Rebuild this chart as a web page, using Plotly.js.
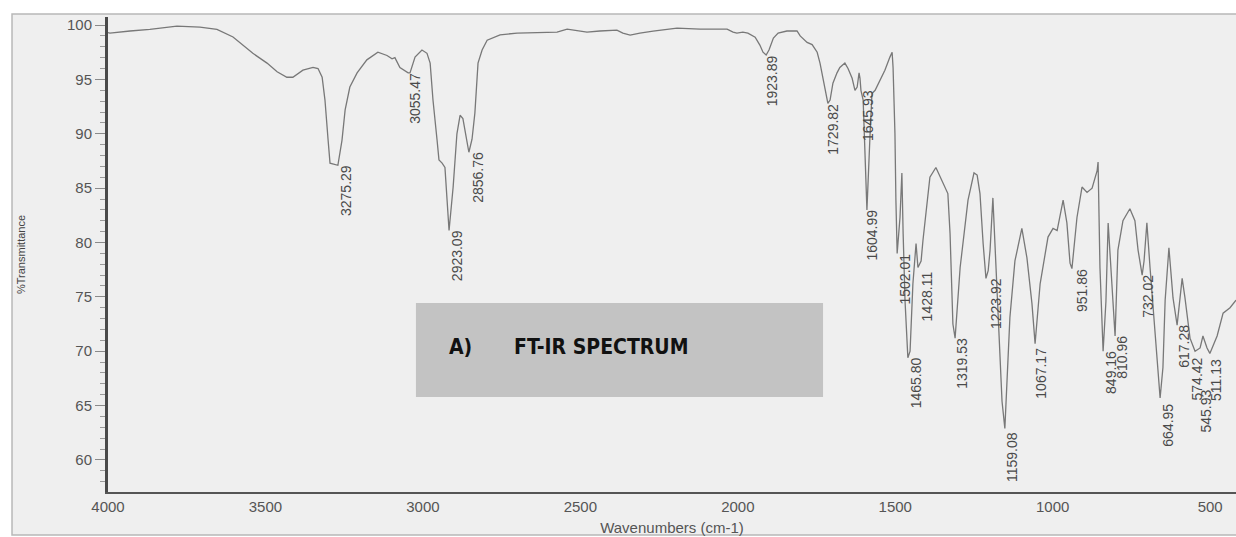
<!DOCTYPE html>
<html>
<head>
<meta charset="utf-8">
<script src="https://cdn.plot.ly/plotly-3.0.1.min.js"></script>
<style>
  html, body { margin: 0; padding: 0; background: #ffffff; }
  #chart { width: 1236px; height: 537px; }
</style>
</head>
<body>
<div id="chart"></div>
<script>
// Spectrum trace (wavenumber, %T)
var wavenumber = [4000, 3994, 3930, 3867, 3781, 3708, 3654, 3603, 3540, 3495, 3463, 3432, 3413, 3381, 3349, 3333, 3320, 3311, 3301, 3295, 3270, 3257, 3247, 3232, 3209, 3178, 3143, 3114, 3098, 3089, 3073, 3047, 3041, 3025, 3003, 2987, 2977, 2968, 2955, 2949, 2939, 2930, 2917, 2904, 2892, 2882, 2873, 2863, 2854, 2844, 2835, 2825, 2812, 2796, 2755, 2701, 2628, 2574, 2542, 2501, 2479, 2438, 2384, 2365, 2342, 2311, 2269, 2193, 2120, 2034, 2015, 2003, 1984, 1968, 1945, 1930, 1920, 1910, 1901, 1887, 1872, 1844, 1812, 1802, 1780, 1764, 1748, 1739, 1729, 1720, 1714, 1707, 1698, 1685, 1676, 1660, 1650, 1637, 1628, 1621, 1618, 1615, 1612, 1609, 1602, 1599, 1596, 1590, 1580, 1574, 1564, 1548, 1533, 1517, 1510, 1507, 1501, 1498, 1494, 1485, 1479, 1475, 1469, 1460, 1453, 1444, 1434, 1428, 1418, 1412, 1390, 1371, 1352, 1333, 1326, 1317, 1310, 1304, 1294, 1269, 1250, 1240, 1231, 1221, 1212, 1205, 1199, 1190, 1187, 1177, 1161, 1152, 1145, 1136, 1120, 1098, 1082, 1066, 1056, 1040, 1015, 999, 986, 967, 955, 945, 939, 923, 907, 891, 875, 859, 856, 850, 840, 831, 824, 812, 802, 793, 777, 755, 739, 729, 716, 710, 701, 691, 675, 659, 650, 643, 631, 618, 605, 589, 580, 564, 548, 532, 523, 510, 501, 478, 459, 437, 418];
var transmittance = [99.3, 99.26, 99.45, 99.6, 99.9, 99.8, 99.6, 98.9, 97.4, 96.5, 95.7, 95.2, 95.2, 95.85, 96.1, 96.0, 95.2, 93.1, 89.4, 87.3, 87.1, 89.4, 92.2, 94.3, 95.6, 96.8, 97.5, 97.2, 96.9, 97.0, 96.1, 95.6, 95.6, 97.05, 97.7, 97.4, 96.5, 93.1, 89.4, 87.6, 87.3, 86.9, 81.1, 85.1, 90.0, 91.7, 91.4, 89.8, 88.3, 89.5, 91.9, 96.5, 97.7, 98.6, 99.1, 99.26, 99.35, 99.35, 99.63, 99.45, 99.35, 99.45, 99.54, 99.26, 99.08, 99.26, 99.45, 99.72, 99.63, 99.63, 99.35, 99.26, 99.35, 99.26, 98.89, 98.16, 97.5, 97.24, 97.7, 98.8, 99.26, 99.45, 99.45, 99.0, 98.4, 98.2, 97.5, 96.5, 94.9, 93.4, 92.8, 93.1, 94.65, 95.6, 96.1, 96.5, 96.0, 95.1, 94.0, 94.3, 94.9, 95.6, 95.1, 94.0, 93.1, 90.3, 86.4, 83.0, 90.0, 93.7, 94.0, 94.9, 95.85, 97.05, 97.5, 96.1, 90.0, 83.9, 79.0, 82.3, 86.4, 80.8, 74.65, 69.4, 70.0, 76.2, 79.9, 77.7, 78.3, 80.2, 86.0, 86.9, 85.7, 84.5, 80.8, 72.5, 71.2, 73.7, 77.7, 83.9, 86.4, 86.2, 84.5, 79.9, 76.7, 77.4, 79.3, 84.1, 82.3, 76.2, 65.4, 62.9, 67.0, 73.1, 78.3, 81.3, 78.6, 74.4, 70.7, 76.2, 80.5, 81.3, 81.1, 83.9, 81.8, 78.1, 77.6, 82.3, 85.1, 84.6, 85.0, 86.6, 87.4, 77.7, 70.0, 74.6, 81.8, 76.2, 71.4, 79.3, 82.0, 83.1, 82.0, 79.3, 77.0, 78.3, 81.8, 77.7, 71.6, 65.7, 68.5, 74.7, 79.5, 74.9, 72.4, 76.7, 74.9, 71.2, 70.0, 70.3, 71.4, 70.3, 69.8, 71.4, 73.5, 74.0, 74.7];

// Peak labels
var peakLabels = ["3275.29", "3055.47", "2923.09", "2856.76", "1923.89", "1729.82", "1645.93", "1604.99", "1502.01", "1465.80", "1428.11", "1319.53", "1223.92", "1159.08", "1067.17", "951.86", "849.16", "810.96", "732.02", "664.95", "617.28", "574.42", "545.93", "511.13"];
var peakWavenumber = [3275.29, 3055.47, 2923.09, 2856.76, 1923.89, 1729.82, 1645.93, 1604.99, 1502.01, 1465.80, 1428.11, 1319.53, 1223.92, 1159.08, 1067.17, 951.86, 849.16, 810.96, 732.02, 664.95, 617.28, 574.42, 545.93, 511.13];
var peakTransmittance = [87.1, 95.6, 81.1, 88.3, 97.24, 92.8, 94.0, 83.0, 79.0, 69.4, 77.7, 71.2, 76.7, 62.9, 70.7, 77.6, 70.0, 71.4, 77.0, 65.7, 72.4, 70.0, 69.8, 69.8];

// Axis ticks
var xTicks = [4000, 3500, 3000, 2500, 2000, 1500, 1000, 500];
var yTicks = [60, 65, 70, 75, 80, 85, 90, 95, 100];

// label placement tweaks (layout only)
var labelDrop = {"664.95": -6, "574.42": -6, "545.93": -36, "511.13": -6, "1159.08": -4, "1067.17": -4, "1428.11": -4};
var labelSide = {"1645.93": 8, "951.86": 4, "1223.92": 4};

var annotations = [];
for (var i = 0; i < peakLabels.length; i++) {
  annotations.push({
    x: peakWavenumber[i], y: peakTransmittance[i], xref: 'x', yref: 'y',
    text: peakLabels[i], showarrow: false, textangle: -90,
    xanchor: 'left', yanchor: 'top',
    xshift: 2 + (labelSide[peakLabels[i]] || 0), yshift: (labelDrop[peakLabels[i]] || 0),
    font: {family: 'Liberation Sans, Arial, sans-serif', size: 14, color: '#4a4a4a'},
    borderpad: 0, borderwidth: 0
  });
}
annotations.push({
  xref: 'paper', yref: 'paper', x: 0.3005, y: 0.3053, xanchor: 'left', yanchor: 'middle',
  text: '<b>A)</b>', showarrow: false,
  font: {family: 'Liberation Sans Narrow, DejaVu Sans Condensed, sans-serif', size: 21, color: '#111111'}
});
annotations.push({
  xref: 'paper', yref: 'paper', x: 0.3582, y: 0.3053, xanchor: 'left', yanchor: 'middle',
  text: '<b>FT-IR SPECTRUM</b>', showarrow: false,
  font: {family: 'Liberation Sans Narrow, DejaVu Sans Condensed, sans-serif', size: 21, color: '#111111'}
});

var trace = {
  x: wavenumber, y: transmittance, type: 'scatter', mode: 'lines',
  line: {color: '#787878', width: 1.3}, hoverinfo: 'x+y', showlegend: false
};

var layout = {
  width: 1236, height: 537,
  margin: {l: 108, r: 0, t: 17, b: 45, pad: 0},
  paper_bgcolor: '#ffffff', plot_bgcolor: 'rgba(0,0,0,0)',
  font: {family: 'Liberation Sans, Arial, sans-serif', color: '#555555'},
  showlegend: false,
  xaxis: {
    range: [4000, 418], tickvals: xTicks, ticktext: xTicks.map(String),
    ticks: '', showgrid: false, zeroline: false,
    showline: true, linecolor: '#555555', linewidth: 2,
    tickfont: {size: 15, color: '#555555'},
    title: {text: 'Wavenumbers (cm-1)', font: {size: 15, color: '#555555'}, standoff: 8}
  },
  yaxis: {
    range: [57.05, 100.74], tickvals: yTicks, ticktext: yTicks.map(String),
    ticks: 'outside', ticklen: 10, tickwidth: 1, tickcolor: '#8a8a8a',
    minor: {dtick: 1, ticks: 'outside', ticklen: 5, tickcolor: '#9a9a9a', tickwidth: 1},
    showgrid: false, zeroline: false,
    showline: true, linecolor: '#4a4a4a', linewidth: 3,
    tickfont: {size: 15, color: '#555555'},
    title: {text: '%Transmittance', font: {size: 11, color: '#444444'}, standoff: 40}
  },
  shapes: [
    {type: 'rect', xref: 'paper', yref: 'paper', x0: -0.0851, x1: 1.02, y0: -0.0905, y1: 1.0063,
     fillcolor: '#efefef', line: {color: '#b8b8b8', width: 1.5}, layer: 'below'},
    {type: 'rect', xref: 'paper', yref: 'paper', x0: 0.2730, x1: 0.6339, y0: 0.2000, y1: 0.3979,
     fillcolor: '#c3c3c3', line: {width: 0}, layer: 'below'}
  ],
  annotations: annotations
};

Plotly.newPlot('chart', [trace], layout, {displayModeBar: false, staticPlot: true});
</script>
</body>
</html>
